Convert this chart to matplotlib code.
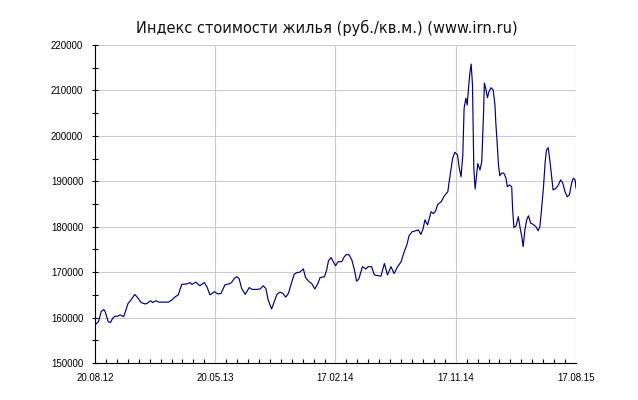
import datetime as dt
import matplotlib
matplotlib.use("Agg")
import matplotlib.pyplot as plt
import matplotlib.dates as mdates
from matplotlib.ticker import MultipleLocator, FixedLocator

start = dt.date(2012, 8, 20)

# дни от 20.08.12 и значения индекса (руб./кв.м.)
days = [0, 8, 14, 20, 23, 30, 35, 40, 45, 52, 57, 65, 69, 75, 82, 90, 95, 105,
        114, 118, 126, 131, 138, 145, 167, 175, 181, 189, 197, 208, 216, 220,
        229, 238, 248, 254, 261, 271, 279, 286, 295, 304, 310, 316, 322, 327,
        333, 341, 350, 357, 367, 375, 382, 388, 393, 401, 407, 413, 420, 427,
        433, 439, 445, 452, 458, 465, 473, 478, 486, 492, 499, 506, 511, 521,
        526, 530, 536, 541, 546, 552, 560, 566, 571, 577, 583, 589, 594, 599,
        607, 615, 620, 628, 634, 643, 649, 657, 664, 672, 679, 687, 695, 702,
        708, 713, 720, 728, 734, 740, 745, 749, 755, 763, 768, 773, 778, 786,
        793, 801, 804, 808, 812, 817, 823, 827, 831, 835, 838, 842, 845, 848,
        851, 854, 857, 860, 863, 869, 874, 878, 882, 884, 887, 891, 894, 899,
        904, 908, 910, 913, 916, 919, 923, 928, 933, 936, 941, 946, 948, 951,
        956, 961, 965, 969, 972, 976, 980, 984, 989, 995, 1001, 1006, 1010,
        1014, 1018, 1022, 1025, 1029, 1033, 1037, 1040, 1047, 1052, 1057, 1062,
        1067, 1072, 1077, 1082, 1086, 1090, 1092]
values = [158400, 159100, 161300, 161800, 161300, 159100, 158900, 159800,
          160300, 160300, 160600, 160200, 161300, 163100, 163900, 165100,
          164600, 163300, 163000, 163100, 163700, 163300, 163700, 163400,
          163400, 163900, 164500, 165000, 167300, 167400, 167700, 167300,
          167800, 167000, 167700, 166800, 165000, 165700, 165200, 165300,
          167200, 167400, 167700, 168600, 169000, 168600, 166400, 165100,
          166600, 166200, 166200, 166300, 167000, 166400, 163900, 161900,
          163500, 165100, 165600, 165300, 164500, 165300, 167200, 169500,
          169900, 170000, 170700, 168800, 167900, 167500, 166300, 167500,
          168800, 169000, 170500, 172500, 173200, 172300, 171400, 172300,
          172300, 173400, 173900, 173800, 172700, 170500, 168000, 168500,
          171200, 170700, 171200, 171200, 169400, 169200, 169100, 171900,
          169400, 171200, 169700, 171200, 172300, 174500, 176000, 178000,
          178900, 179100, 179300, 178300, 179600, 181500, 180400, 183300,
          182900, 183400, 184900, 185500, 186800, 187700, 189900, 192500,
          195100, 196400, 195800, 192900, 191000, 195800, 206100, 208300,
          206800, 210500, 213800, 215800, 211200, 192900, 188300, 193900,
          192500, 194300, 204600, 211600, 210500, 208400, 209600, 210600,
          210100, 206800, 202800, 198400, 193600, 191200, 191800, 191800,
          190700, 188800, 189200, 188800, 184100, 179800, 180200, 182200,
          179800, 177800, 175600, 179300, 181500, 182400, 180800, 180500,
          180000, 179100, 180000, 184100, 188500, 194300, 196900, 197400,
          194300, 190700, 188100, 188500, 189200, 190300, 189600, 187700,
          186600, 187000, 189600, 190700, 190300, 188500]

tick_days = [0, 273, 546, 819, 1092]
tick_labels = ["20.08.12", "20.05.13", "17.02.14", "17.11.14", "17.08.15"]
title = "Индекс стоимости жилья (руб./кв.м.) (www.irn.ru)"

dates = [start + dt.timedelta(days=d) for d in days]
tick_dates = [mdates.date2num(start + dt.timedelta(days=d)) for d in tick_days]

fig = plt.figure(figsize=(6.38, 4.0), dpi=100)
ax = fig.add_axes([95 / 638, 37 / 400, 481 / 638, 318 / 400])

ax.plot(dates, values, color="#000080", lw=0.85)

ax.set_ylim(150000, 220000)
ax.set_xlim(tick_dates[0], tick_dates[-1])
ax.yaxis.set_major_locator(MultipleLocator(10000))
ax.yaxis.set_minor_locator(MultipleLocator(5000))
ax.xaxis.set_major_locator(FixedLocator(tick_dates))
ax.set_xticklabels(tick_labels)
minor = [tick_dates[0] + i * 273 / 11 for i in range(45)]
ax.xaxis.set_minor_locator(FixedLocator(minor))

ax.grid(True, which="major", color="#cccccc", lw=0.8)
ax.set_axisbelow(True)
for s in ["top", "right"]:
    ax.spines[s].set_visible(False)
for s in ["left", "bottom"]:
    ax.spines[s].set_linewidth(0.8)

ax.tick_params(axis="y", which="both", direction="inout", length=5, width=0.8,
               labelsize=7, pad=6)
ax.tick_params(axis="x", which="major", direction="in", length=0, labelsize=7,
               pad=7)
ax.tick_params(axis="x", which="minor", direction="in", length=3, width=0.8)
for lab in ax.get_xticklabels() + ax.get_yticklabels():
    lab.set_family("Liberation Sans")

fig.text(327 / 638, 1 - 28 / 400, title, ha="center", va="center",
         fontsize=10.5, family="DejaVu Sans", color="#111111")

fig.savefig("out.png", dpi=100)
